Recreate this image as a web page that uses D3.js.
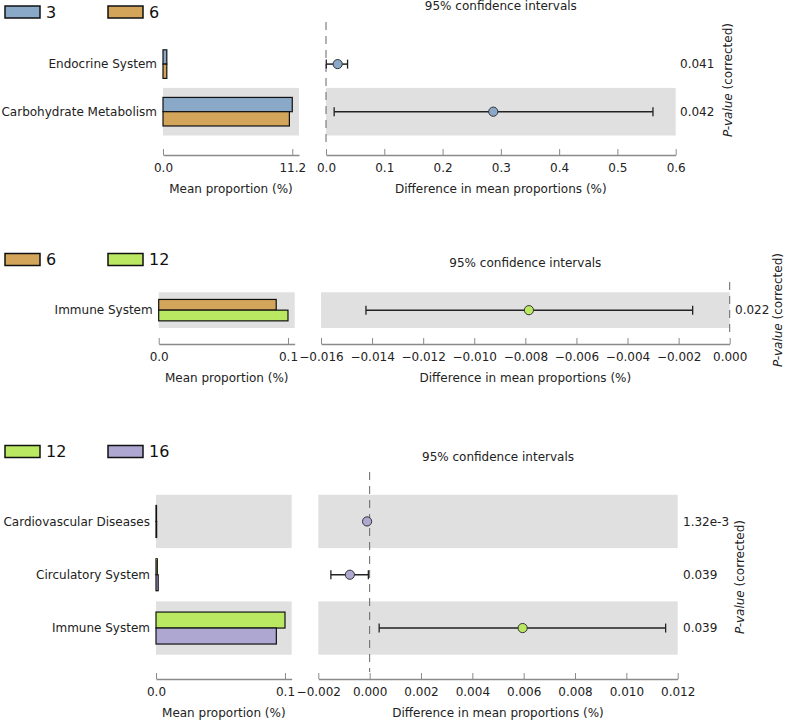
<!DOCTYPE html>
<html>
<head>
<meta charset="utf-8">
<script src="https://cdn.jsdelivr.net/npm/d3@7"></script>
<style>
  html, body { margin: 0; padding: 0; background: #fff; }
  svg { display: block; font-family: "DejaVu Sans", sans-serif; }
</style>
</head>
<body>
<svg id="chart" width="789" height="720"></svg>
<script>
// ---------- DATA ----------
// Panel 1: group 3 vs group 6
const p1Groups = ["3", "6"];
const p1Features = ["Endocrine System", "Carbohydrate Metabolism"];
const p1MeanA = [0.33, 11.2];
const p1MeanB = [0.33, 10.95];
const p1Diff = [0.020, 0.287];
const p1CiLow = [0.0005, 0.014];
const p1CiHigh = [0.037, 0.561];
const p1PValues = ["0.041", "0.042"];
const p1DiffTicks = [0, 0.1, 0.2, 0.3, 0.4, 0.5, 0.6];

// Panel 2: group 6 vs group 12
const p2Groups = ["6", "12"];
const p2Features = ["Immune System"];
const p2MeanA = [0.0909];
const p2MeanB = [0.1000];
const p2Diff = [-0.00786];
const p2CiLow = [-0.01424];
const p2CiHigh = [-0.00145];
const p2PValues = ["0.022"];
const p2DiffTicks = [-0.016, -0.014, -0.012, -0.010, -0.008, -0.006, -0.004, -0.002, 0.000];

// Panel 3: group 12 vs group 16
const p3Groups = ["12", "16"];
const p3Features = ["Cardiovascular Diseases", "Circulatory System", "Immune System"];
const p3MeanA = [0.0004, 0.0010, 0.1000];
const p3MeanB = [0.0005, 0.0017, 0.0933];
const p3Diff = [-0.00010, -0.00077, 0.00596];
const p3CiLow = [-0.00011, -0.00151, 0.00037];
const p3CiHigh = [-0.00009, -0.00005, 0.01153];
const p3PValues = ["1.32e-3", "0.039", "0.039"];
const p3DiffTicks = [-0.002, 0.000, 0.002, 0.004, 0.006, 0.008, 0.010, 0.012];

// Group colours
const groupColors = { "3": "#8aa8c8", "6": "#d3a55a", "12": "#bbe862", "16": "#aea7d2" };

// ---------- LAYOUT ----------
const panels = [
  { groups: p1Groups, features: p1Features, a: p1MeanA, b: p1MeanB, diff: p1Diff, lo: p1CiLow, hi: p1CiHigh,
    pv: p1PValues, ticks: p1DiffTicks, diffFmt: ".1f", leftFmt: ".1f",
    legendY: 12, rowTop: 40.3, rowH: 47.6, leftX0: 163, leftX1: 299, rightX0: 326, rightX1: 675.7,
    axisY: 155, titleY: 6, dashTop: 22, pvalX: 680, plabelX: 728, plabelY: 80 },
  { groups: p2Groups, features: p2Features, a: p2MeanA, b: p2MeanB, diff: p2Diff, lo: p2CiLow, hi: p2CiHigh,
    pv: p2PValues, ticks: p2DiffTicks, diffFmt: ".3f", leftFmt: ".1f",
    legendY: 259.5, rowTop: 292.3, rowH: 35.7, leftX0: 158.7, leftX1: 294.7, rightX0: 321, rightX1: 729.7,
    axisY: 344, titleY: 263, dashTop: 282, pvalX: 735, plabelX: 778, plabelY: 310 },
  { groups: p3Groups, features: p3Features, a: p3MeanA, b: p3MeanB, diff: p3Diff, lo: p3CiLow, hi: p3CiHigh,
    pv: p3PValues, ticks: p3DiffTicks, diffFmt: ".3f", leftFmt: ".1f",
    legendY: 451.5, rowTop: 494.8, rowH: 53.3, leftX0: 156, leftX1: 291.7, rightX0: 318.3, rightX1: 677.7,
    axisY: 679, titleY: 457, dashTop: 472, pvalX: 683, plabelX: 740, plabelY: 577 }
];

const svg = d3.select("#chart");
const spineColor = "#8a8a8a";
const bandColor = "#e0e0e0";
const textColor = "#222";

panels.forEach(p => {
  const g = svg.append("g");
  const n = p.features.length;
  const colA = groupColors[p.groups[0]], colB = groupColors[p.groups[1]];

  // Legend
  p.groups.forEach((grp, i) => {
    const lx = 5 + i * 103;
    g.append("rect").attr("x", lx).attr("y", p.legendY - 6).attr("width", 35).attr("height", 12)
      .attr("fill", groupColors[grp]).attr("stroke", "#111").attr("stroke-width", 1.5);
    g.append("text").attr("x", lx + 41).attr("y", p.legendY).attr("dy", "0.35em")
      .attr("font-size", 16).attr("fill", "#111").text(grp);
  });

  // Scales
  const y = d3.scaleBand().domain(p.features).range([p.rowTop, p.rowTop + n * p.rowH]).paddingInner(0).paddingOuter(0);
  const maxMean = d3.max(p.a.concat(p.b));
  const xL = d3.scaleLinear().domain([0, maxMean * 1.052]).range([p.leftX0, p.leftX1]);
  const xR = d3.scaleLinear().domain([p.ticks[0], p.ticks[p.ticks.length - 1]]).range([p.rightX0, p.rightX1]);

  // Bands (alternating, starting from the bottom row)
  p.features.forEach((f, i) => {
    if ((n - 1 - i) % 2 === 0) {
      g.append("rect").attr("x", p.leftX0).attr("y", y(f)).attr("width", p.leftX1 - p.leftX0)
        .attr("height", y.bandwidth()).attr("fill", bandColor);
      g.append("rect").attr("x", p.rightX0).attr("y", y(f)).attr("width", p.rightX1 - p.rightX0)
        .attr("height", y.bandwidth()).attr("fill", bandColor);
    }
  });

  // Bars
  const barH = y.bandwidth() * 0.3;
  p.features.forEach((f, i) => {
    const cy = y(f) + y.bandwidth() / 2;
    g.append("rect").attr("x", xL(0)).attr("y", cy - barH).attr("width", xL(p.a[i]) - xL(0))
      .attr("height", barH).attr("fill", colA).attr("stroke", "#111").attr("stroke-width", 1.2);
    g.append("rect").attr("x", xL(0)).attr("y", cy).attr("width", xL(p.b[i]) - xL(0))
      .attr("height", barH).attr("fill", colB).attr("stroke", "#111").attr("stroke-width", 1.2);
    g.append("text").attr("x", p.leftX0 - 6).attr("y", cy).attr("dy", "0.35em").attr("text-anchor", "end")
      .attr("font-size", 12).attr("fill", textColor).text(f);
  });

  // Zero dashed line
  g.append("line").attr("x1", xR(0)).attr("x2", xR(0)).attr("y1", p.dashTop).attr("y2", p.axisY - 7)
    .attr("stroke", "#666").attr("stroke-width", 1).attr("stroke-dasharray", "8,6");

  // CIs and points
  p.features.forEach((f, i) => {
    const cy = y(f) + y.bandwidth() / 2;
    const x1 = xR(p.lo[i]), x2 = xR(p.hi[i]);
    g.append("line").attr("x1", x1).attr("x2", x2).attr("y1", cy).attr("y2", cy)
      .attr("stroke", "#222").attr("stroke-width", 1.5);
    [x1, x2].forEach(xx => g.append("line").attr("x1", xx).attr("x2", xx).attr("y1", cy - 4.5).attr("y2", cy + 4.5)
      .attr("stroke", "#222").attr("stroke-width", 1.3));
    g.append("circle").attr("cx", xR(p.diff[i])).attr("cy", cy).attr("r", 4.6)
      .attr("fill", p.diff[i] >= 0 ? colA : colB).attr("stroke", "#333").attr("stroke-width", 1);
    g.append("text").attr("x", p.pvalX).attr("y", cy).attr("dy", "0.35em")
      .attr("font-size", 12).attr("fill", textColor).text(p.pv[i]);
  });

  // Axes
  const leftAxis = d3.axisBottom(xL).tickValues([0, maxMean]).tickFormat(d3.format(p.leftFmt))
    .tickSizeInner(-6).tickSizeOuter(0).tickPadding(8);
  const la = g.append("g").attr("transform", `translate(0,${p.axisY})`).call(leftAxis);
  const rightAxis = d3.axisBottom(xR).tickValues(p.ticks).tickFormat(d3.format(p.diffFmt))
    .tickSizeInner(-6).tickSizeOuter(0).tickPadding(8);
  const ra = g.append("g").attr("transform", `translate(0,${p.axisY})`).call(rightAxis);
  [la, ra].forEach(ax => {
    ax.select(".domain").attr("stroke", spineColor).attr("stroke-width", 1.3);
    ax.selectAll(".tick line").attr("stroke", spineColor).attr("stroke-width", 1);
    ax.selectAll(".tick text").attr("font-size", 12).attr("fill", textColor)
      .attr("font-family", "DejaVu Sans, sans-serif");
  });

  // Axis labels
  g.append("text").attr("x", (p.leftX0 + p.leftX1) / 2).attr("y", p.axisY + 34).attr("dy", "0.35em")
    .attr("text-anchor", "middle").attr("font-size", 12).attr("fill", textColor).text("Mean proportion (%)");
  g.append("text").attr("x", (p.rightX0 + p.rightX1) / 2).attr("y", p.axisY + 34).attr("dy", "0.35em")
    .attr("text-anchor", "middle").attr("font-size", 12).attr("fill", textColor).text("Difference in mean proportions (%)");

  // Title
  g.append("text").attr("x", (p.rightX0 + p.rightX1) / 2).attr("y", p.titleY).attr("dy", "0.35em")
    .attr("text-anchor", "middle").attr("font-size", 12).attr("fill", textColor).text("95% confidence intervals");

  // P-value label
  const pl = g.append("text").attr("transform", `translate(${p.plabelX},${p.plabelY}) rotate(-90)`)
    .attr("dy", "0.35em").attr("text-anchor", "middle").attr("font-size", 12).attr("fill", textColor);
  pl.append("tspan").attr("font-style", "italic").text("P-value");
  pl.append("tspan").text(" (corrected)");
});
</script>
</body>
</html>
